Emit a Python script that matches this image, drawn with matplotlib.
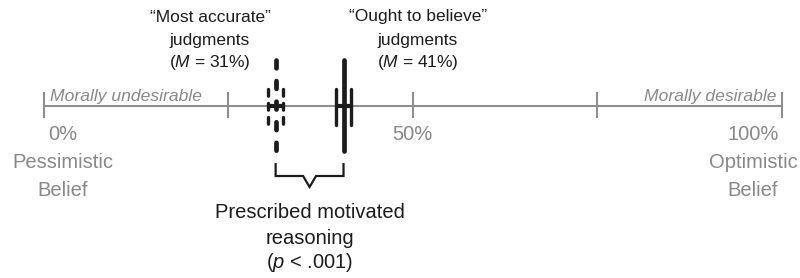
import matplotlib
matplotlib.use("Agg")
import matplotlib.pyplot as plt
from matplotlib.transforms import offset_copy

plt.rcParams['font.family'] = ['Liberation Sans', 'DejaVu Sans']
plt.rcParams['mathtext.fontset'] = 'custom'
plt.rcParams['mathtext.rm'] = 'Liberation Sans'
plt.rcParams['mathtext.it'] = 'Liberation Sans:italic'

# ---- data ----
conditions = ["“Most accurate”", "“Ought to believe”"]
mean_positions = [31.4, 40.6]          # where the marks sit on the 0-100% scale
mean_labels = [31, 41]                  # M values printed in the labels
tick_values = [0, 25, 50, 75, 100]
tick_labels = {0: ["0%", "Pessimistic", "Belief"], 50: ["50%"], 100: ["100%", "Optimistic", "Belief"]}
region_labels = ["Morally undesirable", "Morally desirable"]
test_label = ["Prescribed motivated", "reasoning", "($p$ < .001)"]

GRAY = '#8e8e8e'
TGRAY = '#888888'
BLACK = '#1c1c1c'

W, H = 800, 278
fig = plt.figure(figsize=(W / 100, H / 100), dpi=100)
ax = fig.add_axes([0, 0, 1, 1])
x0_px, x1_px = 44.0, 781.7
ppp = (x1_px - x0_px) / 100.0
ax.set_xlim(-x0_px / ppp, (W - x0_px) / ppp)
ax.set_ylim(H, 0)
ax.axis('off')


def px(x):
    return (x - x0_px) / ppp


axis_y = 106
# axis line + ticks
ax.plot([tick_values[0], tick_values[-1]], [axis_y, axis_y], color=GRAY, lw=1.5, solid_capstyle='butt')
for t in tick_values:
    ax.plot([t, t], [92, 118], color=GRAY, lw=1.5, solid_capstyle='butt')

# tick labels
lines_y = [135, 163, 190]
label_x = {0: px(63), 50: 50, 100: px(753)}
for t, lab in tick_labels.items():
    for i, s in enumerate(lab):
        ax.text(label_x[t], lines_y[i], s, ha='center', va='center', fontsize=14.5, color=TGRAY)

# region labels
ax.text(px(50), 97, region_labels[0], ha='left', va='center', fontsize=12.6, style='italic', color=TGRAY)
ax.text(px(777), 97, region_labels[1], ha='right', va='center', fontsize=12.6, style='italic', color=TGRAY)

# markers
styles = ['dashed', 'solid']
for m, st in zip(mean_positions, styles):
    if st == 'dashed':
        ls_c = (0, (1.66, 2.7))
        ls_s = (0, (2.0, 2.2))
    else:
        ls_c = '-'
        ls_s = '-'
    # centre line
    ax.plot([m, m], [60.4, 151], color=BLACK, lw=3.4, linestyle=ls_c,
            solid_capstyle='round', dash_capstyle='round')
    for dx in (-7.4, 7.4):
        tr = offset_copy(ax.transData, fig=fig, x=dx, y=0, units='dots')
        ax.plot([m, m], [88.7, 125.3], color=BLACK, lw=2.4, linestyle=ls_s, transform=tr,
                solid_capstyle='round', dash_capstyle='round')
    trl = offset_copy(ax.transData, fig=fig, x=-8, y=0, units='dots')
    ax.plot([m, m + 16 / ppp], [axis_y, axis_y], color=BLACK, lw=3.0, transform=trl,
            solid_capstyle='butt')

# condition labels
cond_x = [px(210), px(418)]
top_y = [17, 40, 62]
for c, cx, v in zip(conditions, cond_x, mean_labels):
    ax.text(cx, top_y[0], c, ha='center', va='center', fontsize=12.5, color=BLACK)
    ax.text(cx, top_y[1], "judgments", ha='center', va='center', fontsize=12.5, color=BLACK)
    ax.text(cx, top_y[2], "($M$ = %d%%)" % v, ha='center', va='center', fontsize=12.5, color=BLACK)

# bracket
a, b = mean_positions
mid = (a + b) / 2
half_v = 6.5 / ppp
ax.plot([a, a, mid - half_v, mid, mid + half_v, b, b],
        [163, 176, 176, 187, 176, 176, 163], color=BLACK, lw=1.6,
        solid_joinstyle='miter', solid_capstyle='butt')

# test label
for s, y in zip(test_label, [212, 238, 263]):
    ax.text(mid, y, s, ha='center', va='center', fontsize=14.5, color=BLACK)

fig.savefig('out.png', dpi=100)
